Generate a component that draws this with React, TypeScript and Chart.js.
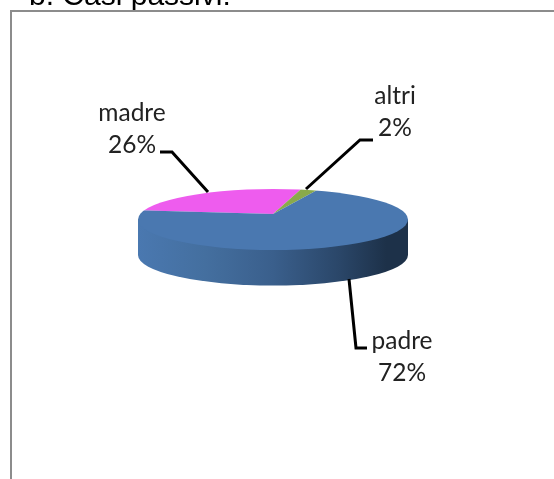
import React, { useEffect, useRef } from "react";
import { Chart, registerables } from "chart.js";

Chart.register(...registerables);

const titleText = "b. Casi passivi:";
const categories = ["madre", "altri", "padre"];
const shares = [26, 2, 72];
const sliceColors = ["#ee5cee", "#8aaa4a", "#4a78b0"];

const labelFont = "24.5px Lato, 'Open Sans', sans-serif";

// Visible outline of the tilted disc; the apex sits a little above its centre.
const rimDrop = 5.5;
const rimRy = 30.5;
const wallDepth = 35.5;
const faceScaleX = 1.5;
const faceScaleY = 0.285;

const labelLayout: Record<string, { x: number; y: number; path: number[][] }> = {
  madre: { x: 132, y: 113, path: [[208, 192], [172, 152], [160, 152]] },
  altri: { x: 395, y: 96, path: [[306, 189], [360, 140], [373, 140]] },
  padre: { x: 402, y: 341, path: [[349, 279], [356, 348], [367, 348]] },
};

const piePlugin = {
  id: "flatPie",
  beforeDatasetsDraw(chart: any) {
    const ctx: CanvasRenderingContext2D = chart.ctx;
    const arcs = chart.getDatasetMeta(0).data;
    const { x: cx, y: cy, outerRadius: r } = arcs[0];
    const rimY = cy + rimDrop;

    // frame and clipped heading
    ctx.save();
    ctx.font = "30px 'Liberation Sans', Arial, sans-serif";
    ctx.fillStyle = "#000";
    ctx.textAlign = "left";
    ctx.textBaseline = "alphabetic";
    ctx.fillText(titleText, 29, 5);
    ctx.strokeStyle = "#8c8c8c";
    ctx.lineWidth = 2;
    ctx.beginPath();
    ctx.moveTo(11, 479);
    ctx.lineTo(11, 11);
    ctx.lineTo(554, 11);
    ctx.stroke();
    ctx.restore();

    // side wall
    const wall = ctx.createLinearGradient(cx - r, 0, cx + r, 0);
    wall.addColorStop(0, "#4a78b0");
    wall.addColorStop(0.25, "#446f9f");
    wall.addColorStop(0.5, "#3a5f8c");
    wall.addColorStop(0.75, "#2a4668");
    wall.addColorStop(0.92, "#1d3149");
    wall.addColorStop(1, "#1d3149");
    ctx.save();
    ctx.fillStyle = wall;
    ctx.beginPath();
    ctx.moveTo(cx - r, rimY);
    ctx.lineTo(cx - r, rimY + wallDepth);
    ctx.ellipse(cx, rimY + wallDepth, r, rimRy, 0, Math.PI, 0, true);
    ctx.lineTo(cx + r, rimY);
    ctx.closePath();
    ctx.fill();
    ctx.restore();

    // top face: the library's arcs, flattened about the apex, cut to the rim
    ctx.save();
    ctx.beginPath();
    ctx.ellipse(cx, rimY, r, rimRy, 0, 0, Math.PI * 2);
    ctx.clip();
    ctx.translate(cx, cy);
    ctx.scale(faceScaleX, faceScaleY);
    ctx.translate(-cx, -cy);
    arcs.forEach((a: any) => a.draw(ctx));
    ctx.restore();

    // leaders and labels
    ctx.save();
    ctx.strokeStyle = "#000";
    ctx.lineWidth = 3;
    ctx.fillStyle = "#222";
    ctx.font = labelFont;
    ctx.textAlign = "center";
    ctx.textBaseline = "middle";
    categories.forEach((name, i) => {
      const l = labelLayout[name];
      ctx.beginPath();
      l.path.forEach(([px, py], k) => (k ? ctx.lineTo(px, py) : ctx.moveTo(px, py)));
      ctx.stroke();
      ctx.fillText(name, l.x, l.y);
      ctx.fillText(shares[i] + "%", l.x, l.y + 32);
    });
    ctx.restore();
    return false;
  },
};

export default function App() {
  const ref = useRef<HTMLCanvasElement>(null);
  useEffect(() => {
    document.body.style.margin = "0";
    document.body.style.background = "#fff";
    const chart = new Chart(ref.current!, {
      type: "pie",
      data: {
        labels: categories,
        datasets: [{ data: shares, backgroundColor: sliceColors, borderWidth: 0 }],
      },
      options: {
        responsive: false,
        animation: false,
        rotation: -81.5,
        layout: { padding: { left: 138, right: 146, top: 79, bottom: 130 } },
        plugins: { legend: { display: false }, tooltip: { enabled: false }, title: { display: false } },
      },
      plugins: [piePlugin],
    } as any);
    return () => chart.destroy();
  }, []);
  return <canvas ref={ref} width={554} height={479} style={{ display: "block" }} />;
}
